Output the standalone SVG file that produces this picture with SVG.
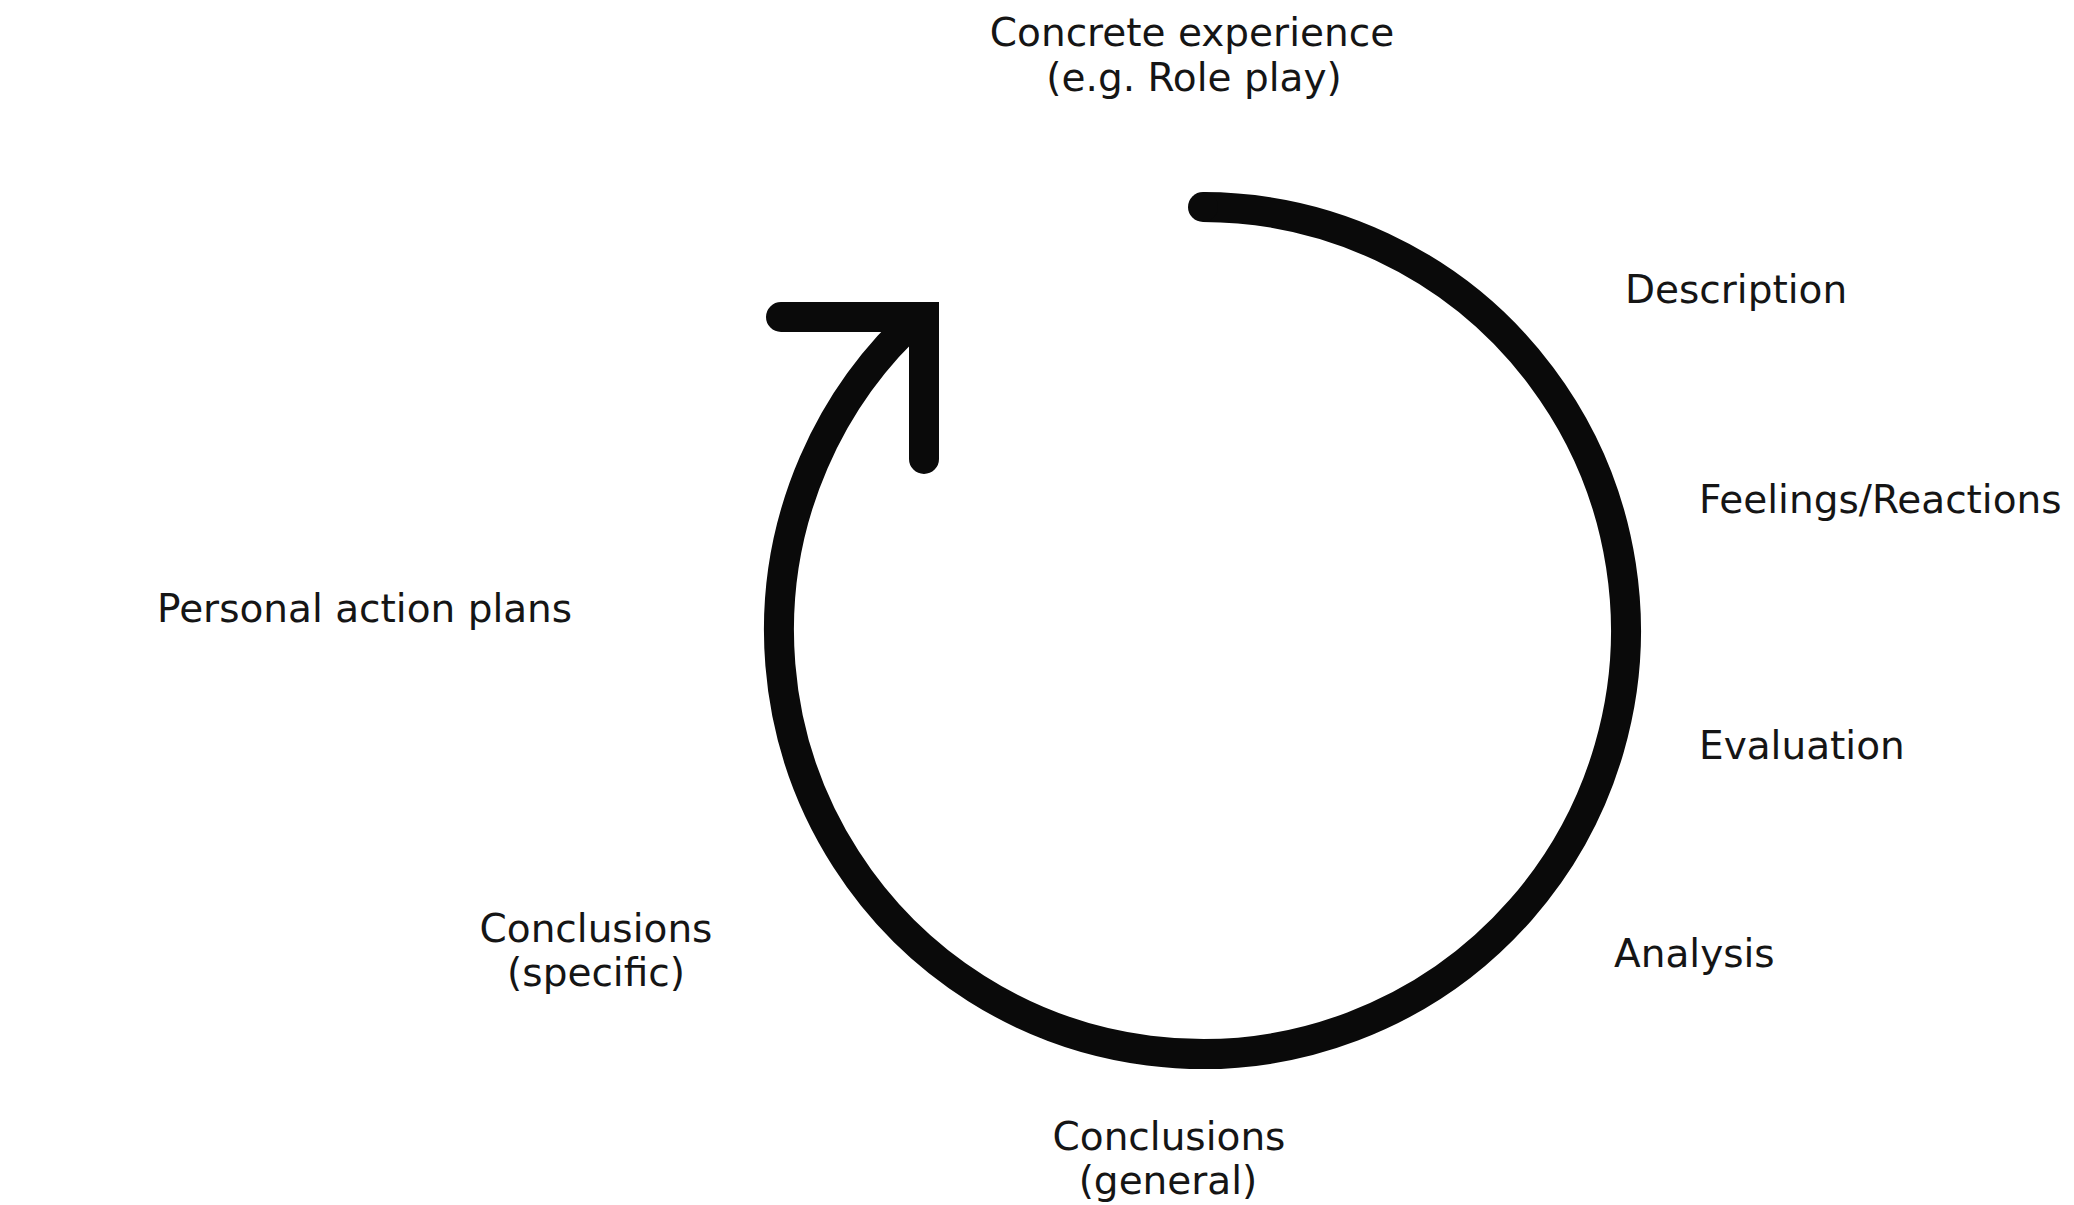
<svg xmlns="http://www.w3.org/2000/svg" width="2074" height="1205" viewBox="0 0 2074 1205">
  <style>
    .lbl { font-family: "DejaVu Sans", Verdana, sans-serif; font-size: 39px; fill: #151515; }
    .mid { text-anchor: middle; }
    .cyc { fill: none; stroke: #0a0a0a; stroke-width: 30; }
  </style>
  <rect width="2074" height="1205" fill="#ffffff"/>
  <g id="connectors">
    <path id="cycle-arc" class="cyc" stroke-linecap="butt" d="M 1203 207 A 423.5 423.5 0 1 1 921.3 313.8"/>
    <circle id="cycle-start-cap" cx="1203" cy="207" r="15" fill="#0a0a0a"/>
    <path id="cycle-head" class="cyc" stroke-width="31" stroke-linecap="round" stroke-linejoin="miter" d="M 781 317 L 924 317 L 924 459"/>
  </g>
  <g id="node-concrete">
    <text class="lbl mid" x="1192" y="46">Concrete experience</text>
    <text class="lbl mid" x="1194" y="91">(e.g. Role play)</text>
  </g>
  <g id="node-description">
    <text class="lbl" x="1625" y="303">Description</text>
  </g>
  <g id="node-feelings">
    <text class="lbl" x="1699" y="513">Feelings/Reactions</text>
  </g>
  <g id="node-evaluation">
    <text class="lbl" x="1699" y="759">Evaluation</text>
  </g>
  <g id="node-analysis">
    <text class="lbl" x="1614" y="967">Analysis</text>
  </g>
  <g id="node-conclusions-general">
    <text class="lbl mid" x="1169" y="1150">Conclusions</text>
    <text class="lbl mid" x="1168" y="1194">(general)</text>
  </g>
  <g id="node-conclusions-specific">
    <text class="lbl mid" x="596" y="942">Conclusions</text>
    <text class="lbl mid" x="596" y="986">(specific)</text>
  </g>
  <g id="node-personal">
    <text class="lbl" x="157" y="622">Personal action plans</text>
  </g>
</svg>
